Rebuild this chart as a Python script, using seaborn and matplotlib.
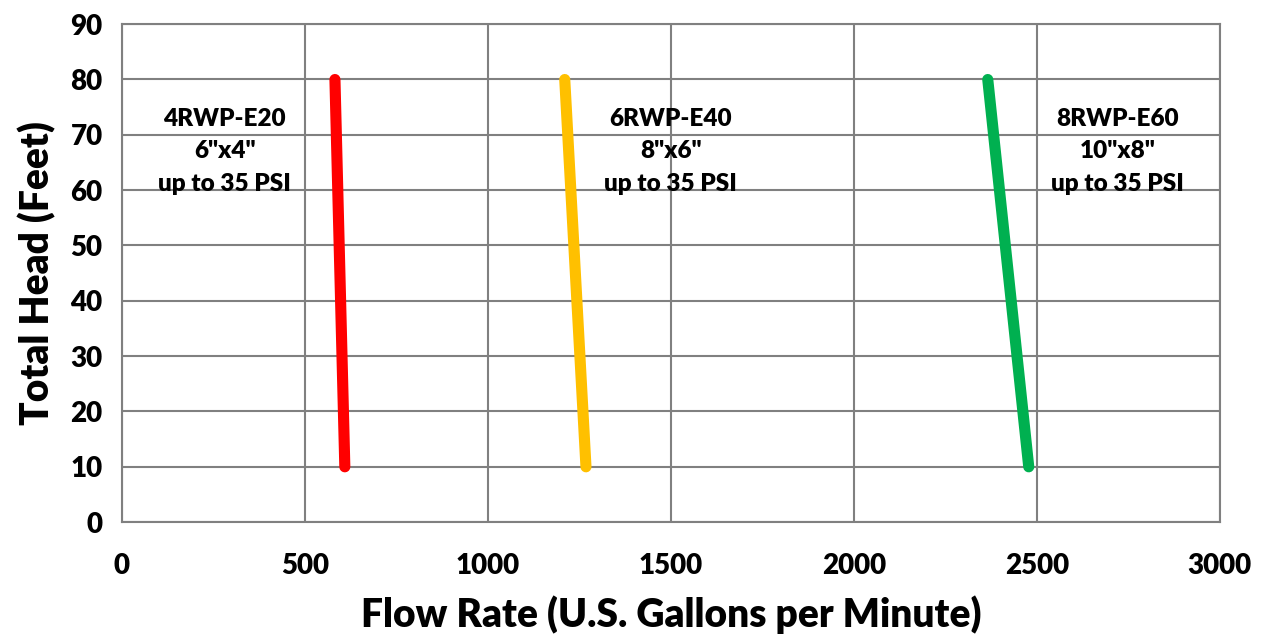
import matplotlib
matplotlib.use("Agg")
import matplotlib.pyplot as plt
import seaborn as sns
import pandas as pd

models = ["4RWP-E20", "6RWP-E40", "8RWP-E60"]
sizes = ['6"x4"', '8"x6"', '10"x8"']
flow_top = [582, 1210, 2366]
flow_bottom = [609, 1268, 2478]
head_top = [80, 80, 80]
head_bottom = [10, 10, 10]
label_x = [281, 1500, 2721]
colors = ["#FF0000", "#FFC000", "#00B050"]

rows = []
for i, m in enumerate(models):
    rows.append({"model": m, "flow": flow_top[i], "head": head_top[i]})
    rows.append({"model": m, "flow": flow_bottom[i], "head": head_bottom[i]})
df = pd.DataFrame(rows)

sns.set_style("white")
plt.rcParams["font.family"] = ["Lato", "DejaVu Sans"]
weight = "heavy"

fig = plt.figure(figsize=(12.64, 6.36), dpi=100)
ax = fig.add_axes([0.0965, 0.179, 0.8685, 0.783])

sns.lineplot(data=df, x="flow", y="head", hue="model", palette=colors,
             linewidth=8, legend=False, ax=ax, solid_capstyle="round")

for i, m in enumerate(models):
    ax.text(label_x[i], 67.0, m + "\n" + sizes[i] + "\nup to 35 PSI",
            ha="center", va="center", fontsize=17.5, fontweight=weight,
            linespacing=1.6, color="black")

ax.set_xlim(0, 3000)
ax.set_ylim(0, 90)
ax.set_xticks(range(0, 3001, 500))
ax.set_yticks(range(0, 91, 10))
ax.grid(True, color="#808080", linewidth=1.5)
for s in ax.spines.values():
    s.set_color("#808080")
    s.set_linewidth(1.5)
ax.tick_params(length=0, labelsize=20, pad=22, labelcolor="black")
for lab in ax.get_xticklabels() + ax.get_yticklabels():
    lab.set_fontweight(weight)
ax.tick_params(axis="y", pad=14)

ax.set_xlabel("Flow Rate (U.S. Gallons per Minute)", fontsize=28, fontweight=weight, labelpad=12, color="black")
ax.set_ylabel("Total Head (Feet)", fontsize=28, fontweight=weight, labelpad=10, color="black")

fig.savefig("out.png", dpi=100)
